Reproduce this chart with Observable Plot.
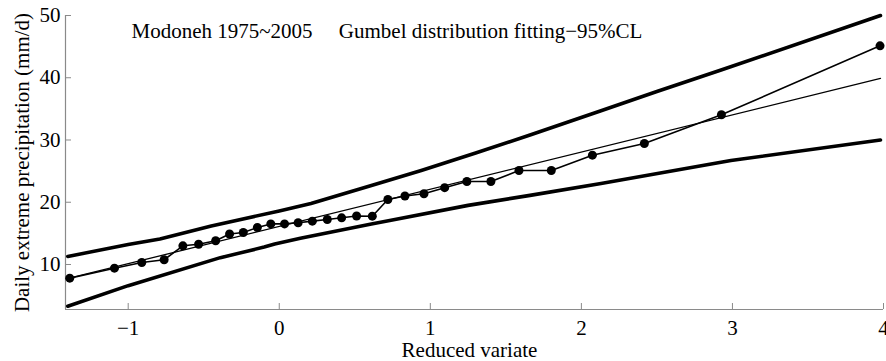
<!DOCTYPE html>
<html><head><meta charset="utf-8">
<script src="https://cdn.jsdelivr.net/npm/d3@7"></script>
<script src="https://cdn.jsdelivr.net/npm/@observablehq/plot@0.6"></script>
<style>html,body{margin:0;padding:0;background:#fff} svg{display:block}</style>
</head><body><div id="chart"></div>
<script>
// Observed annual maxima (reduced variate, mm/d)
const obsX = [-1.387, -1.091, -0.910, -0.762, -0.638, -0.534, -0.421, -0.329, -0.238, -0.145,
              -0.056, 0.035, 0.125, 0.219, 0.318, 0.413, 0.512, 0.616, 0.719, 0.832,
              0.958, 1.095, 1.242, 1.401, 1.587, 1.801, 2.073, 2.417, 2.927, 3.977];
const obsY = [7.80, 9.41, 10.32, 10.76, 13.00, 13.26, 13.82, 14.90, 15.14, 15.94,
              16.52, 16.52, 16.71, 16.96, 17.23, 17.50, 17.79, 17.76, 20.44, 21.00,
              21.36, 22.34, 23.33, 23.33, 25.10, 25.10, 27.56, 29.44, 34.05, 45.13];
// Gumbel fit line
const fitX = [-1.39, 3.98];
const fitY = [7.8, 39.9];
// 95% confidence limits
const upperX = [-1.40, -1.00, -0.79, -0.45, 0.00, 0.21, 0.61, 0.94, 1.30, 1.66, 2.13, 2.50, 2.92, 3.98];
const upperY = [11.3, 13.2, 14.1, 16.2, 18.6, 19.8, 22.7, 25.1, 27.9, 30.8, 34.7, 37.8, 41.2, 50.0];
const lowerX = [-1.40, -1.00, -0.39, -0.10, -0.03, 0.14, 0.61, 0.74, 1.25, 1.66, 2.13, 2.99, 3.98];
const lowerY = [3.3, 6.6, 11.1, 12.8, 13.3, 14.2, 16.5, 17.1, 19.5, 21.1, 23.0, 26.7, 30.0];

const xTicks = [-1, 0, 1, 2, 3, 4];
const yTicks = [10, 20, 30, 40, 50];
const xDomain = [-1.415, 4.0];
const yDomain = [2.77, 50];
const titleText = "Modoneh 1975~2005\u00a0\u00a0\u00a0\u00a0 Gumbel distribution fitting\u221295%CL";
const xLabel = "Reduced variate";
const yLabel = "Daily extreme precipitation (mm/d)";

const obs = obsX.map((x, i) => ({x, y: obsY[i]}));
const fit = fitX.map((x, i) => ({x, y: fitY[i]}));
const upper = upperX.map((x, i) => ({x, y: upperY[i]}));
const lower = lowerX.map((x, i) => ({x, y: lowerY[i]}));

const axisColor = "#8a8a8a";
const fmt = d => d < 0 ? "\u2212" + Math.abs(d) : String(d);

const chart = Plot.plot({
  width: 886,
  height: 361,
  marginLeft: 65,
  marginRight: 3,
  marginTop: 15,
  marginBottom: 52,
  style: {fontFamily: "'Liberation Serif', 'Times New Roman', serif", fontSize: "21px", color: "black", background: "white", overflow: "visible"},
  x: {domain: xDomain},
  y: {domain: yDomain},
  marks: [
    Plot.ruleX([xDomain[0]], {stroke: axisColor, strokeWidth: 1.2}),
    Plot.ruleY([yDomain[0]], {stroke: axisColor, strokeWidth: 1.2}),
    Plot.axisY({ticks: yTicks, tickSize: -6, tickPadding: 11, stroke: axisColor, fill: "black", label: null, tickFormat: fmt}),
    Plot.axisX({ticks: xTicks, tickSize: -6, tickPadding: 17, stroke: axisColor, fill: "black", label: null, tickFormat: fmt}),
    Plot.line(upper, {x: "x", y: "y", stroke: "black", strokeWidth: 3.6}),
    Plot.line(lower, {x: "x", y: "y", stroke: "black", strokeWidth: 3.6}),
    Plot.line(fit, {x: "x", y: "y", stroke: "black", strokeWidth: 1.3}),
    Plot.line(obs, {x: "x", y: "y", stroke: "black", strokeWidth: 1.6}),
    Plot.dot(obs, {x: "x", y: "y", r: 4.5, fill: "black", stroke: null}),
    Plot.text([titleText], {frameAnchor: "top-left", text: d => d, textAnchor: "start", lineAnchor: "bottom", dx: 66, dy: 22, fill: "black"}),
    Plot.text([xLabel], {frameAnchor: "bottom", text: d => d, textAnchor: "middle", lineAnchor: "bottom", dx: -5, dy: 47, fill: "black"}),
    Plot.text([yLabel], {frameAnchor: "left", text: d => d, textAnchor: "middle", lineAnchor: "bottom", rotate: -90, dx: -37, fill: "black"})
  ]
});
document.getElementById("chart").appendChild(chart);
</script>
</body></html>
